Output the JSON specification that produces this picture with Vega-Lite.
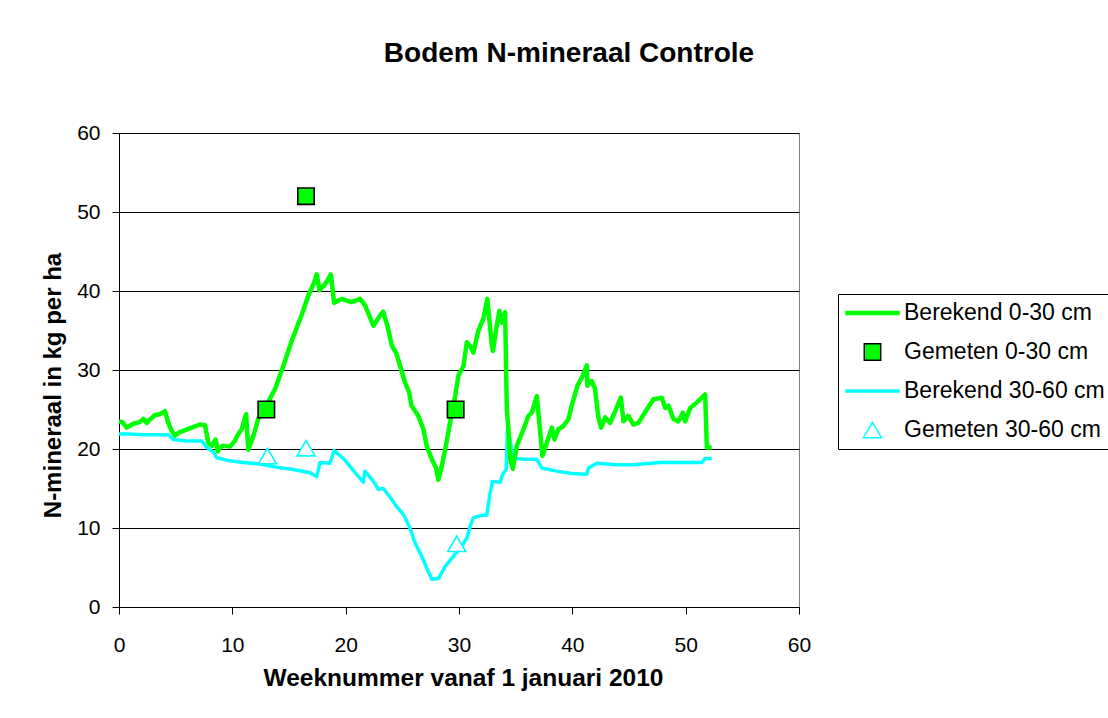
{
  "$schema": "https://vega.github.io/schema/vega-lite/v6.json",
  "autosize": {"type": "none"},
  "width": 680,
  "height": 474,
  "padding": {"left": 119, "top": 133, "right": 309, "bottom": 111},
  "background": "white",
  "config": {
    "font": "Liberation Sans",
    "view": {"stroke": "#808080", "strokeWidth": 1},
    "axis": {"labelColor": "black", "titleColor": "black", "domainColor": "black", "tickColor": "black", "labelFont": "Liberation Sans", "titleFont": "Liberation Sans"}
  },
  "title": {
    "text": "Bodem N-mineraal Controle",
    "fontSize": 28,
    "fontWeight": "bold",
    "color": "black",
    "anchor": "middle",
    "frame": "group",
    "dx": 110,
    "offset": 32,
    "baseline": "alphabetic"
  },
  "datasets": {
    "green": [
      {"week": 0.0, "value": 23.5}, {"week": 0.3, "value": 23.4}, {"week": 0.68, "value": 22.7}, {"week": 1.27, "value": 23.2},
      {"week": 1.8, "value": 23.4}, {"week": 2.15, "value": 23.8}, {"week": 2.44, "value": 23.3}, {"week": 2.8, "value": 23.8},
      {"week": 3.18, "value": 24.3}, {"week": 3.6, "value": 24.4}, {"week": 4.06, "value": 24.8}, {"week": 4.35, "value": 23.3},
      {"week": 4.65, "value": 22.3}, {"week": 4.94, "value": 21.7}, {"week": 5.3, "value": 22.1}, {"week": 5.68, "value": 22.3},
      {"week": 6.41, "value": 22.7}, {"week": 7.15, "value": 23.1}, {"week": 7.59, "value": 23.0}, {"week": 7.88, "value": 20.8},
      {"week": 8.18, "value": 20.4}, {"week": 8.53, "value": 21.2}, {"week": 8.71, "value": 19.7}, {"week": 8.95, "value": 20.2},
      {"week": 9.2, "value": 20.4}, {"week": 9.8, "value": 20.3}, {"week": 10.2, "value": 21.0}, {"week": 10.53, "value": 21.9},
      {"week": 10.83, "value": 22.5}, {"week": 11.21, "value": 24.4}, {"week": 11.41, "value": 19.9}, {"week": 11.85, "value": 21.6},
      {"week": 12.3, "value": 23.9}, {"week": 13.0, "value": 25.5}, {"week": 13.77, "value": 27.6}, {"week": 14.5, "value": 30.5},
      {"week": 15.24, "value": 33.7}, {"week": 16.1, "value": 36.9}, {"week": 16.7, "value": 39.4}, {"week": 17.2, "value": 41.0},
      {"week": 17.45, "value": 42.1}, {"week": 17.68, "value": 40.1}, {"week": 18.2, "value": 40.9}, {"week": 18.7, "value": 42.1},
      {"week": 18.98, "value": 38.5}, {"week": 19.65, "value": 39.0}, {"week": 20.5, "value": 38.6}, {"week": 21.27, "value": 39.0},
      {"week": 21.7, "value": 38.2}, {"week": 22.45, "value": 35.6}, {"week": 22.9, "value": 36.6}, {"week": 23.3, "value": 37.4},
      {"week": 23.7, "value": 35.5}, {"week": 24.07, "value": 33.1}, {"week": 24.5, "value": 32.0}, {"week": 25.24, "value": 28.4},
      {"week": 25.6, "value": 27.2}, {"week": 25.8, "value": 25.5}, {"week": 26.4, "value": 24.2}, {"week": 26.86, "value": 22.5},
      {"week": 27.15, "value": 20.4}, {"week": 27.6, "value": 18.7}, {"week": 27.98, "value": 17.6}, {"week": 28.18, "value": 16.1},
      {"week": 28.48, "value": 17.8}, {"week": 28.92, "value": 21.0}, {"week": 29.27, "value": 23.8}, {"week": 29.66, "value": 26.7},
      {"week": 29.95, "value": 29.3}, {"week": 30.4, "value": 30.5}, {"week": 30.69, "value": 33.5}, {"week": 31.0, "value": 33.0},
      {"week": 31.27, "value": 32.2}, {"week": 31.71, "value": 35.0}, {"week": 32.15, "value": 36.5}, {"week": 32.5, "value": 39.0},
      {"week": 32.9, "value": 33.1}, {"week": 33.0, "value": 32.4}, {"week": 33.33, "value": 35.6}, {"week": 33.57, "value": 37.5},
      {"week": 33.78, "value": 36.0}, {"week": 34.07, "value": 37.3}, {"week": 34.22, "value": 25.0}, {"week": 34.36, "value": 22.5},
      {"week": 34.51, "value": 18.7}, {"week": 34.75, "value": 17.5}, {"week": 35.1, "value": 20.4}, {"week": 35.69, "value": 22.5},
      {"week": 36.13, "value": 24.2}, {"week": 36.43, "value": 24.6}, {"week": 36.87, "value": 26.7}, {"week": 37.36, "value": 19.1},
      {"week": 37.75, "value": 20.8}, {"week": 38.19, "value": 22.7}, {"week": 38.42, "value": 21.2}, {"week": 38.77, "value": 22.5},
      {"week": 39.21, "value": 22.9}, {"week": 39.66, "value": 23.8}, {"week": 39.95, "value": 25.5}, {"week": 40.45, "value": 28.0},
      {"week": 40.93, "value": 29.3}, {"week": 41.28, "value": 30.6}, {"week": 41.33, "value": 28.0}, {"week": 41.72, "value": 28.6},
      {"week": 42.0, "value": 27.6}, {"week": 42.3, "value": 24.0}, {"week": 42.54, "value": 22.7}, {"week": 42.9, "value": 24.0},
      {"week": 43.34, "value": 23.3}, {"week": 43.78, "value": 24.8}, {"week": 44.28, "value": 26.5}, {"week": 44.51, "value": 23.5},
      {"week": 44.95, "value": 24.2}, {"week": 45.39, "value": 23.1}, {"week": 45.83, "value": 23.3}, {"week": 46.57, "value": 25.0},
      {"week": 47.16, "value": 26.3}, {"week": 47.9, "value": 26.5}, {"week": 48.19, "value": 25.2}, {"week": 48.48, "value": 25.5},
      {"week": 48.92, "value": 23.8}, {"week": 49.36, "value": 23.5}, {"week": 49.75, "value": 24.6}, {"week": 49.96, "value": 23.5},
      {"week": 50.4, "value": 25.2}, {"week": 50.99, "value": 25.9}, {"week": 51.72, "value": 26.9}, {"week": 51.87, "value": 20.2},
      {"week": 52.3, "value": 20.2}
    ],
    "cyan": [
      {"week": 0.0, "value": 21.9}, {"week": 0.97, "value": 21.9}, {"week": 2.15, "value": 21.8}, {"week": 3.33, "value": 21.8},
      {"week": 4.35, "value": 21.8}, {"week": 4.79, "value": 21.2}, {"week": 5.97, "value": 21.0}, {"week": 7.3, "value": 21.0},
      {"week": 7.74, "value": 20.2}, {"week": 8.32, "value": 19.6}, {"week": 8.62, "value": 18.9}, {"week": 9.8, "value": 18.5},
      {"week": 10.97, "value": 18.3}, {"week": 12.44, "value": 18.1}, {"week": 13.92, "value": 17.7}, {"week": 15.38, "value": 17.4},
      {"week": 16.86, "value": 17.0}, {"week": 17.45, "value": 16.5}, {"week": 17.74, "value": 18.3}, {"week": 18.62, "value": 18.2},
      {"week": 18.98, "value": 19.8}, {"week": 19.8, "value": 18.8}, {"week": 20.83, "value": 17.0}, {"week": 21.56, "value": 15.8},
      {"week": 21.7, "value": 17.2}, {"week": 22.45, "value": 15.9}, {"week": 22.88, "value": 14.9}, {"week": 23.33, "value": 15.0},
      {"week": 24.07, "value": 13.6}, {"week": 24.5, "value": 12.7}, {"week": 25.1, "value": 11.7}, {"week": 25.62, "value": 10.2},
      {"week": 26.13, "value": 8.1}, {"week": 26.72, "value": 6.4}, {"week": 27.16, "value": 4.9}, {"week": 27.6, "value": 3.5},
      {"week": 28.18, "value": 3.6}, {"week": 28.77, "value": 5.1}, {"week": 29.5, "value": 6.4}, {"week": 30.24, "value": 7.7},
      {"week": 30.69, "value": 8.7}, {"week": 30.98, "value": 10.2}, {"week": 31.27, "value": 11.3}, {"week": 32.0, "value": 11.6},
      {"week": 32.45, "value": 11.6}, {"week": 32.74, "value": 14.4}, {"week": 32.95, "value": 15.9}, {"week": 33.63, "value": 15.8},
      {"week": 33.86, "value": 16.8}, {"week": 34.16, "value": 17.4}, {"week": 34.28, "value": 22.5}, {"week": 34.51, "value": 21.1},
      {"week": 34.75, "value": 19.0}, {"week": 35.1, "value": 18.8}, {"week": 35.69, "value": 18.7}, {"week": 36.87, "value": 18.7},
      {"week": 37.3, "value": 17.6}, {"week": 38.63, "value": 17.2}, {"week": 39.95, "value": 16.9}, {"week": 41.28, "value": 16.8},
      {"week": 41.42, "value": 17.6}, {"week": 42.16, "value": 18.2}, {"week": 43.93, "value": 18.0}, {"week": 45.39, "value": 18.0},
      {"week": 47.75, "value": 18.3}, {"week": 50.1, "value": 18.3}, {"week": 51.43, "value": 18.3}, {"week": 51.72, "value": 18.8},
      {"week": 52.3, "value": 18.8}
    ],
    "measured": [
      {"serie": "Gemeten 0-30 cm", "week": 13.0, "value": 25},
      {"serie": "Gemeten 0-30 cm", "week": 16.5, "value": 52},
      {"serie": "Gemeten 0-30 cm", "week": 29.7, "value": 25},
      {"serie": "Gemeten 30-60 cm", "week": 13.1, "value": 19.1},
      {"serie": "Gemeten 30-60 cm", "week": 16.5, "value": 20.1},
      {"serie": "Gemeten 30-60 cm", "week": 29.8, "value": 8.0}
    ]
  },
  "layer": [
    {
      "data": {"name": "cyan"},
      "mark": {"type": "line", "color": "#00FFFF", "strokeWidth": 3.5, "strokeJoin": "round"},
      "encoding": {
        "x": {"field": "week", "type": "quantitative", "scale": {"domain": [0, 60], "nice": false, "zero": false},
          "axis": {"values": [0, 10, 20, 30, 40, 50, 60], "grid": false, "tickSize": 7, "labelFontSize": 21, "labelPadding": 20, "labelFlush": false, "labelOverlap": false,
            "title": "Weeknummer vanaf 1 januari 2010", "titleFontSize": 24.5, "titleFontWeight": "bold", "titleX": 344, "titleY": 78, "titleBaseline": "alphabetic", "titleAlign": "center"}},
        "y": {"field": "value", "type": "quantitative", "scale": {"domain": [0, 60], "nice": false, "zero": false},
          "axis": {"values": [0, 10, 20, 30, 40, 50, 60], "grid": true, "gridColor": "black", "gridOpacity": 1, "gridWidth": 1, "tickSize": 7, "labelFontSize": 21, "labelPadding": 12, "labelOverlap": false, "labelFlush": false,
            "title": "N-mineraal in kg per ha", "titleFontSize": 24, "titleFontWeight": "bold", "titleAngle": -90, "titleX": -59, "titleY": 252, "titleBaseline": "alphabetic", "titleAlign": "center"}}
      }
    },
    {
      "data": {"name": "green"},
      "mark": {"type": "line", "color": "#00FF00", "strokeWidth": 4.5, "strokeJoin": "round"},
      "encoding": {
        "x": {"field": "week", "type": "quantitative"},
        "y": {"field": "value", "type": "quantitative"}
      }
    },
    {
      "data": {"name": "measured"},
      "mark": {"type": "point", "filled": true, "size": 2809, "strokeWidth": 1.6, "opacity": 1},
      "encoding": {
        "x": {"field": "week", "type": "quantitative"},
        "y": {"field": "value", "type": "quantitative"},
        "shape": {"field": "serie", "type": "nominal",
          "scale": {"domain": ["Berekend 0-30 cm", "Gemeten 0-30 cm", "Berekend 30-60 cm", "Gemeten 30-60 cm"],
            "range": ["M-1,-0.055H1V0.055H-1Z", "M-0.31,-0.31H0.31V0.31H-0.31Z", "M-1,-0.035H1V0.035H-1Z", "M0,-0.29L0.34,0.29L-0.34,0.29Z"]},
          "legend": {
            "title": null, "orient": "none", "legendX": 719, "legendY": 161,
            "padding": 7, "rowPadding": 15, "clipHeight": 24, "symbolSize": 2809, "symbolStrokeWidth": 1.5, "symbolOffset": 0,
            "labelFont": "Liberation Sans", "labelFontSize": 23, "labelColor": "black", "labelOffset": 4, "labelLimit": 400,
            "strokeColor": "black", "fillColor": "white"
          }
        },
        "fill": {"field": "serie", "type": "nominal",
          "scale": {"domain": ["Berekend 0-30 cm", "Gemeten 0-30 cm", "Berekend 30-60 cm", "Gemeten 30-60 cm"], "range": ["#00FF00", "#00FF00", "#00FFFF", "#FFFFFF"]},
          "legend": null},
        "stroke": {"field": "serie", "type": "nominal",
          "scale": {"domain": ["Berekend 0-30 cm", "Gemeten 0-30 cm", "Berekend 30-60 cm", "Gemeten 30-60 cm"], "range": ["#00FF00", "#000000", "#00FFFF", "#00FFFF"]},
          "legend": null}
      }
    }
  ]
}
